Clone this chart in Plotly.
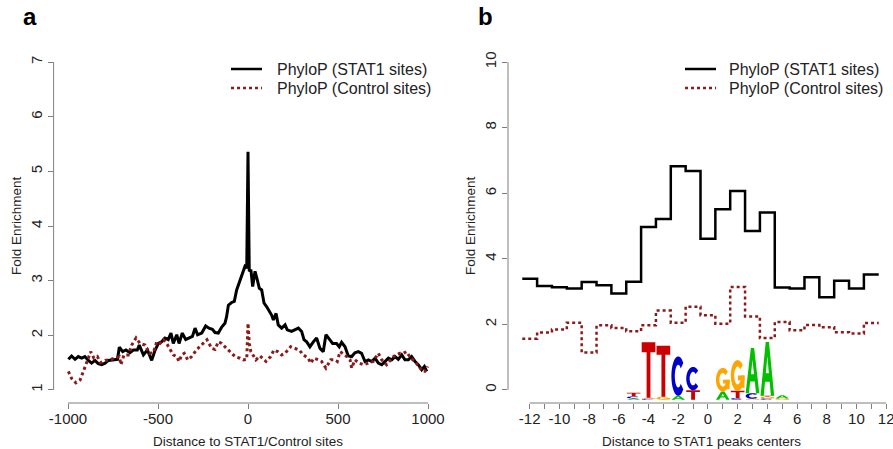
import math
import plotly.graph_objects as go

FONT = "Liberation Sans, Arial, Helvetica, sans-serif"

# ---------------- Panel a data ----------------
a_stat1_x = [-998, -980, -961, -943, -924, -906, -887, -869, -850, -832, -813, -794, -776, -757,
             -739, -725, -715, -696, -678, -656, -637, -615, -604, -581, -559, -535, -517, -498,
             -480, -461, -443, -428, -415, -396, -383, -365, -346, -328, -309, -294, -280, -257,
             -235, -217, -198, -183, -165, -146, -128, -119, -109, -91, -76, -63, -44, -26, -17,
             -7, 0, 7, 16, 26, 39, 52, 63, 76, 89, 104, 119, 131, 141, 156, 168, 187, 206, 218,
             242, 261, 280, 298, 311, 326, 344, 363, 381, 400, 418, 433, 452, 470, 492, 507, 520,
             539, 557, 576, 594, 613, 631, 650, 669, 687, 706, 724, 743, 761, 780, 798, 817, 835,
             854, 872, 891, 909, 928, 946, 965, 980, 993]
a_stat1_y = [1.56, 1.62, 1.56, 1.61, 1.58, 1.61, 1.54, 1.49, 1.54, 1.48, 1.46, 1.49, 1.54, 1.55,
             1.55, 1.56, 1.78, 1.70, 1.73, 1.68, 1.73, 1.73, 1.82, 1.64, 1.73, 1.54, 1.72, 1.85,
             1.88, 1.95, 1.92, 2.04, 1.85, 2.01, 1.85, 2.04, 1.92, 1.95, 1.98, 2.13, 2.01, 2.04,
             2.17, 2.13, 2.11, 2.05, 2.04, 2.15, 2.22, 2.34, 2.55, 2.60, 2.62, 2.83, 3.01, 3.20, 3.26,
             3.23, 5.36, 3.17, 3.20, 2.89, 3.17, 3.01, 2.86, 2.83, 2.59, 2.52, 2.43, 2.37, 2.28,
             2.40, 2.19, 2.13, 2.19, 2.10, 2.07, 2.10, 2.13, 2.07, 1.92, 1.88, 1.79, 1.88, 1.95,
             1.76, 1.70, 2.01, 1.92, 1.85, 1.85, 1.79, 1.87, 1.79, 1.62, 1.61, 1.68, 1.70, 1.67,
             1.52, 1.55, 1.52, 1.58, 1.49, 1.46, 1.52, 1.58, 1.55, 1.61, 1.56, 1.64, 1.55, 1.55,
             1.61, 1.52, 1.46, 1.37, 1.43, 1.34]

a_ctrl_x = [-998, -980, -956, -933, -911, -893, -874, -856, -837, -819, -794, -767, -739, -715,
            -706, -689, -665, -646, -622, -600, -572, -548, -526, -507, -489, -470, -452, -428,
            -415, -396, -383, -368, -354, -335, -313, -287, -257, -228, -202, -183, -165, -146,
            -119, -94, -72, -44, -26, -7, 0, 7, 16, 44, 67, 100, 126, 144, 165, 187, 206, 237,
            261, 285, 307, 335, 348, 366, 391, 409, 433, 459, 483, 496, 511, 539, 567, 576, 594,
            617, 641, 669, 696, 724, 743, 770, 798, 820, 844, 863, 881, 904, 928, 950, 969, 983, 998]
a_ctrl_y = [1.34, 1.21, 1.13, 1.18, 1.37, 1.52, 1.70, 1.58, 1.61, 1.50, 1.54, 1.55, 1.58, 1.61,
            1.46, 1.64, 1.64, 1.82, 1.95, 1.85, 1.82, 1.67, 1.68, 1.88, 1.85, 1.92, 1.85, 1.70,
            1.64, 1.61, 1.52, 1.64, 1.67, 1.55, 1.61, 1.73, 1.82, 1.92, 1.76, 1.74, 1.88, 1.85,
            1.76, 1.67, 1.61, 1.58, 1.55, 1.56, 2.22, 1.85, 1.70, 1.55, 1.62, 1.52, 1.61, 1.73,
            1.70, 1.64, 1.67, 1.79, 1.76, 1.73, 1.64, 1.58, 1.49, 1.58, 1.55, 1.52, 1.40, 1.55,
            1.55, 1.52, 1.70, 1.64, 1.55, 1.40, 1.55, 1.49, 1.46, 1.49, 1.52, 1.67, 1.55, 1.46,
            1.58, 1.64, 1.67, 1.67, 1.70, 1.58, 1.52, 1.43, 1.34, 1.34, 1.43]

a_xticks = [-1000, -500, 0, 500, 1000]
a_xticklabels = ["-1000", "-500", "0", "500", "1000"]
a_yticks = [1, 2, 3, 4, 5, 6, 7]
a_yticklabels = ["1", "2", "3", "4", "5", "6", "7"]

# ---------------- Panel b data ----------------
b_pos = list(range(-12, 12))
b_stat1 = [3.39, 3.17, 3.13, 3.09, 3.29, 3.19, 2.94, 3.30, 4.97, 5.21, 6.82, 6.68,
           4.61, 5.51, 6.07, 4.85, 5.41, 3.12, 3.09, 3.44, 2.83, 3.33, 3.09, 3.52]
b_ctrl = [1.56, 1.75, 1.84, 2.05, 1.14, 1.97, 1.89, 1.79, 1.97, 2.42, 2.05, 2.54,
          2.28, 2.02, 3.14, 2.24, 1.58, 2.07, 1.82, 1.98, 1.91, 1.76, 1.72, 2.04]
b_xticks = list(range(-12, 13))
b_xticklabels = [str(v) if v % 2 == 0 else "" for v in b_xticks]
b_yticks = [0, 2, 4, 6, 8, 10]
b_yticklabels = ["0", "2", "4", "6", "8", "10"]

# Sequence logo (letters stacked bottom -> top, heights in data units)
logo_pos = [-5, -4, -3, -2, -1, 1, 2, 3, 4, 5]
logo_letters = ["ACT", "CGT", "GT", "AC", "TC", "AG", "CTG", "GCA", "CGTA", "GA"]
logo_heights = [[0.04, 0.06, 0.11], [0.03, 0.03, 1.69], [0.09, 1.56], [0.12, 1.20],
                [0.29, 0.71], [0.25, 0.72], [0.05, 0.22, 0.94], [0.03, 0.17, 1.38],
                [0.04, 0.06, 0.02, 1.64], [0.04, 0.10]]
logo_base = -0.3
logo_colors = {"A": "#00C000", "C": "#0000CC", "G": "#FFA500", "T": "#CC0000"}

series_names = ["PhyloP (STAT1 sites)", "PhyloP (Control sites)"]

SOLID = "#000000"
DOTTED = "#8B1A1A"
AXIS = "#7f7f7f"
TEXT = "#222222"

fig = go.Figure()

fig.add_trace(go.Scatter(x=a_stat1_x, y=a_stat1_y, mode="lines", name=series_names[0],
                         line=dict(color=SOLID, width=3), xaxis="x", yaxis="y"))
fig.add_trace(go.Scatter(x=a_ctrl_x, y=a_ctrl_y, mode="lines", name=series_names[1],
                         line=dict(color=DOTTED, width=3, dash="dot"), xaxis="x", yaxis="y"))

b_edges = [p - 0.5 for p in b_pos] + [b_pos[-1] + 0.5]
fig.add_trace(go.Scatter(x=b_edges, y=b_stat1 + [b_stat1[-1]], mode="lines", line_shape="hv",
                         name=series_names[0], line=dict(color=SOLID, width=2.5),
                         xaxis="x2", yaxis="y2"))
fig.add_trace(go.Scatter(x=b_edges, y=b_ctrl + [b_ctrl[-1]], mode="lines", line_shape="hv",
                         name=series_names[1], line=dict(color=DOTTED, width=2.5, dash="dot"),
                         xaxis="x2", yaxis="y2"))


# ---------------- glyphs for the logo ----------------
def ring(a0, a1, n=36, ro=(0.5, 0.5), ri=(0.25, 0.29)):
    pts = []
    for i in range(n + 1):
        a = math.radians(a0 + (a1 - a0) * i / n)
        pts.append((0.5 + ro[0] * math.cos(a), 0.5 + ro[1] * math.sin(a)))
    for i in range(n, -1, -1):
        a = math.radians(a0 + (a1 - a0) * i / n)
        pts.append((0.5 + ri[0] * math.cos(a), 0.5 + ri[1] * math.sin(a)))
    return [pts]


def rect(x0, y0, x1, y1):
    return [(x0, y0), (x1, y0), (x1, y1), (x0, y1)]


GLYPHS = {
    "T": [[[(0, 1), (1, 1), (1, 0.82), (0.64, 0.82), (0.64, 0), (0.36, 0), (0.36, 0.82), (0, 0.82)]]],
    "A": [[[(0, 0), (0.38, 1), (0.62, 1), (1, 0), (0.76, 0), (0.67, 0.26), (0.33, 0.26), (0.24, 0)],
           [(0.39, 0.42), (0.61, 0.42), (0.5, 0.74)]]],
    "C": [ring(42, 318)],
    "G": [ring(42, 350), [rect(0.52, 0.34, 1.0, 0.50)], [rect(0.78, 0.1, 1.0, 0.50)]],
}


def glyph_paths(letter, xc, y0, h, w=0.92):
    out = []
    for part in GLYPHS[letter]:
        s = ""
        for poly in part:
            pts = [(xc - w / 2 + ux * w, y0 + uy * h) for ux, uy in poly]
            s += "M" + " L".join(f"{px:.4f},{py:.4f}" for px, py in pts) + " Z "
        out.append(s.strip())
    return out


shapes = []
for pos, letters, heights in zip(logo_pos, logo_letters, logo_heights):
    y = logo_base
    for L, h in zip(letters, heights):
        for p in glyph_paths(L, pos, y, h):
            shapes.append(dict(type="path", path=p, xref="x2", yref="y2", fillcolor=logo_colors[L],
                               line=dict(width=0), layer="above", fillrule="evenodd"))
        y += h

# R-style detached axis lines
for xr, yr, xt, yt in [("x", "y", a_xticks, a_yticks), ("x2", "y2", b_xticks, b_yticks)]:
    shapes.append(dict(type="line", xref=xr, yref=yr + " domain", x0=xt[0], x1=xt[-1], y0=0, y1=0,
                       line=dict(color=AXIS, width=1)))
    shapes.append(dict(type="line", xref=xr + " domain", yref=yr, x0=0, x1=0, y0=yt[0], y1=yt[-1],
                       line=dict(color=AXIS, width=1)))

W, H = 893, 449
ydom = [1 - 403 / H, 1 - 49 / H]

ann = []


def text(t, x, y, size, xanchor="center", angle=0, color=TEXT):
    ann.append(dict(text=t, x=x / W, y=1 - y / H, xref="paper", yref="paper", showarrow=False,
                    xanchor=xanchor, yanchor="middle", textangle=angle,
                    font=dict(size=size, family=FONT, color=color)))


# legends (drawn R-style: short line sample + label)
legend_specs = [(231, 262, 275), (685, 716, 727)]
legend_rows = [69, 88]
legend_styles = [dict(color=SOLID, width=2.5), dict(color=DOTTED, width=2.5, dash="dot")]
for lx0, lx1, tx in legend_specs:
    for name, ry, st in zip(series_names, legend_rows, legend_styles):
        shapes.append(dict(type="line", xref="paper", yref="paper", x0=lx0 / W, x1=lx1 / W,
                           y0=1 - ry / H, y1=1 - ry / H, line=st))
        text(name, tx, ry + 0.5, 16, xanchor="left")

text("<b>a</b>", 30, 17, 24, color="#000")
text("<b>b</b>", 485.5, 17, 24, color="#000")
text("Distance to STAT1/Control sites", 248.3, 441, 13.5)
text("Distance to STAT1 peaks centers", 701.7, 441, 13.5)
text("Fold Enrichment", 16, 226, 13.5, angle=-90)
text("Fold Enrichment", 470, 226, 13.5, angle=-90)


def ax(**kw):
    d = dict(showgrid=False, zeroline=False, showline=False, ticks="outside", ticklen=5,
             tickcolor=AXIS, tickwidth=1, tickfont=dict(size=15, color=TEXT, family=FONT),
             automargin=False, fixedrange=True)
    d.update(kw)
    return d


fig.update_layout(
    width=W, height=H, margin=dict(l=0, r=0, t=0, b=0),
    paper_bgcolor="white", plot_bgcolor="white",
    font=dict(family=FONT, color=TEXT),
    xaxis=ax(domain=[53.6 / W, 442.4 / W], range=[-1080, 1080], anchor="y",
             tickvals=a_xticks, ticktext=a_xticklabels, ticklabelstandoff=-3),
    yaxis=ax(domain=ydom, range=[0.76, 7.24], anchor="x", tickvals=a_yticks,
             ticktext=a_yticklabels, tickangle=-90),
    xaxis2=ax(domain=[508 / W, 1.0], range=[-13.46, 12.46], anchor="y2",
              tickvals=b_xticks, ticktext=b_xticklabels, ticklabelstandoff=-3,
              ticklabeloverflow="allow"),
    yaxis2=ax(domain=ydom, range=[-0.4, 10.4], anchor="x2", tickvals=b_yticks,
              ticktext=b_yticklabels, tickangle=-90),
    shapes=shapes, annotations=ann, hovermode=False, showlegend=False,
)

fig.write_html("out.html", config={"displayModeBar": False},
               post_script="document.body.style.margin='0';")
